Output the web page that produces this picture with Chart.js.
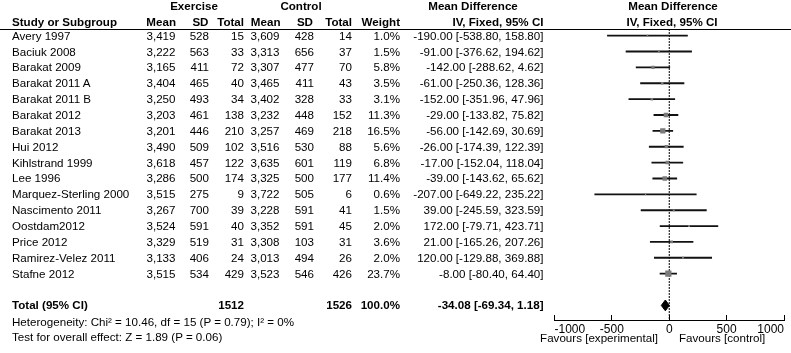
<!DOCTYPE html>
<html><head><meta charset="utf-8">
<script src="https://cdn.jsdelivr.net/npm/chart.js@4.4.1/dist/chart.umd.min.js"></script>
<style>
html,body{margin:0;padding:0;background:#fff;}
#wrap{position:relative;width:791px;height:353px;overflow:hidden;font-family:"Liberation Sans",Arial,sans-serif;font-size:11.6px;color:#000;}
canvas{position:absolute;left:0;top:0;}
.t{position:absolute;white-space:nowrap;line-height:14px;height:14px;}
.b{font-weight:bold;}
#hl{position:absolute;left:0;top:29px;width:791px;height:1px;background:#000;}
</style></head>
<body><div id="wrap"><canvas id="c" width="791" height="353"></canvas><div id="hl"></div></div>
<script>
// ---- data ----
const studies = ["Avery 1997","Baciuk 2008","Barakat 2009","Barakat 2011 A","Barakat 2011 B","Barakat 2012","Barakat 2013","Hui 2012","Kihlstrand 1999","Lee 1996","Marquez-Sterling 2000","Nascimento 2011","Oostdam2012","Price 2012","Ramirez-Velez 2011","Stafne 2012"];
const exMean = [3419,3222,3165,3404,3250,3203,3201,3490,3618,3286,3515,3267,3524,3329,3133,3515];
const exSD   = [528,563,411,465,493,461,446,509,457,500,275,700,591,519,406,534];
const exN    = [15,33,72,40,34,138,210,102,122,174,9,39,40,31,24,429];
const ctMean = [3609,3313,3307,3465,3402,3232,3257,3516,3635,3325,3722,3228,3352,3308,3013,3523];
const ctSD   = [428,656,477,411,328,448,469,530,601,500,505,591,591,103,494,546];
const ctN    = [14,37,70,43,33,152,218,88,119,177,6,41,45,31,26,426];
const weight = [1.0,1.5,5.8,3.5,3.1,11.3,16.5,5.6,6.8,11.4,0.6,1.5,2.0,3.6,2.0,23.7];
const md     = [-190,-91,-142,-61,-152,-29,-56,-26,-17,-39,-207,39,172,21,120,-8];
const ciLo   = [-538.80,-376.62,-288.62,-250.36,-351.96,-133.82,-142.69,-174.39,-152.04,-143.62,-649.22,-245.59,-79.71,-165.26,-129.88,-80.40];
const ciHi   = [158.80,194.62,4.62,128.36,47.96,75.82,30.69,122.39,118.04,65.62,235.22,323.59,423.71,207.26,369.88,64.40];
const totalLabel = "Total (95% CI)";
const totalExN = 1512, totalCtN = 1526, totalWeight = 100.0;
const totalMD = -34.08, totalLo = -69.34, totalHi = 1.18;
const xTicks = [-1000,-500,0,500,1000];
const heterogeneity = "Heterogeneity: Chi\u00b2 = 10.46, df = 15 (P = 0.79); I\u00b2 = 0%";
const overallTest = "Test for overall effect: Z = 1.89 (P = 0.06)";
const favLeft = "Favours [experimental]", favRight = "Favours [control]";

// ---- layout constants ----
const TOTAL_ROW = studies.length + 1;
const Y_MIN = -0.42, Y_MAX = 17.92;
const FONT = '"Liberation Sans", Arial, sans-serif';

const fmtN = v => v.toLocaleString('en-US');
const fmtCI = (m,l,h) => m.toFixed(2) + " [" + l.toFixed(2) + ", " + h.toFixed(2) + "]";

const chart = new Chart(document.getElementById('c'), {
  type: 'bar',
  data: {
    datasets: [
      { type:'bar', indexAxis:'y', order:2,
        data: studies.map((s,i)=>({x:[ciLo[i],ciHi[i]], y:i})),
        barThickness:1.2, backgroundColor:'#111', borderWidth:0 },
      { type:'scatter', order:1,
        data: studies.map((s,i)=>({x:md[i], y:i})),
        pointStyle:'rect', backgroundColor:'#7a7a7a', borderColor:'#7a7a7a', borderWidth:0,
        pointRadius: ctx => (0.4 + 1.2*Math.sqrt(weight[ctx.dataIndex]))/1.414 },
      { type:'line', indexAxis:'x', order:1,
        data: [{x:totalLo,y:TOTAL_ROW},{x:totalMD,y:TOTAL_ROW-0.34},{x:totalHi,y:TOTAL_ROW},{x:totalMD,y:TOTAL_ROW+0.34},{x:totalLo,y:TOTAL_ROW}],
        borderColor:'#000', backgroundColor:'#000', borderWidth:1, pointRadius:0, fill:'shape', tension:0 },
      { type:'line', indexAxis:'x', order:5, clip:false,
        data: [{x:0,y:Y_MIN},{x:0,y:Y_MAX}],
        borderColor:'#000', borderWidth:1, borderDash:[2,1], pointRadius:0, fill:false }
    ]
  },
  options: {
    responsive:false, animation:false, indexAxis:'y',
    layout:{ padding:{ left:554.5, right:0.5, top:29, bottom:0 } },
    plugins:{ legend:{display:false}, tooltip:{enabled:false} },
    scales:{
      y:{ type:'linear', reverse:true, min:Y_MIN, max:Y_MAX, display:false, offset:false, grace:0 },
      x:{ type:'linear', position:'bottom', min:-1000, max:1000, offset:false,
          afterBuildTicks: s => { s.ticks = xTicks.map(v=>({value:v})); },
          afterFit: s => { s.height = 33; },
          grid:{ drawOnChartArea:false, drawTicks:true, tickLength:-5, color:'#000', lineWidth:1 },
          border:{ display:true, color:'#000', width:1 },
          ticks:{ align:'inner', padding:7, color:'#000', autoSkip:false, maxRotation:0,
                  callback: v => String(v),
                  font:{ family:FONT, size:12 } } }
    }
  }
});

// ---- table text ----
const wrap = document.getElementById('wrap');
function txt(str, x, y, align, bold){
  const d = document.createElement('div');
  d.className = 't' + (bold ? ' b' : '');
  d.textContent = str;
  if (align === 'r'){ d.style.left = (x-400)+'px'; d.style.width='400px'; d.style.textAlign='right'; }
  else if (align === 'c'){ d.style.left = (x-200)+'px'; d.style.width='400px'; d.style.textAlign='center'; }
  else { d.style.left = x+'px'; }
  d.style.top = (y-7)+'px';
  wrap.appendChild(d);
}
const col = { name:12, exM:175.5, exS:209, exN:244, ctM:279.5, ctS:314, ctN:352, w:400, md:543.5 };
// headers
txt("Exercise", 194, 6, 'c', true);
txt("Control", 301, 6, 'c', true);
txt("Mean Difference", 473, 6, 'c', true);
txt("Mean Difference", 673, 6, 'c', true);
txt("Study or Subgroup", col.name, 22, 'l', true);
txt("Mean", col.exM+0.5, 22, 'r', true);
txt("SD", col.exS-0.5, 22, 'r', true);
txt("Total", col.exN, 22, 'r', true);
txt("Mean", col.ctM+1, 22, 'r', true);
txt("SD", col.ctS-1, 22, 'r', true);
txt("Total", col.ctN, 22, 'r', true);
txt("Weight", col.w, 22, 'r', true);
txt("IV, Fixed, 95% CI", col.md, 22, 'r', true);
txt("IV, Fixed, 95% CI", 672, 22, 'c', true);

const ys = chart.scales.y;
studies.forEach((s,i)=>{
  const y = ys.getPixelForValue(i);
  txt(s, col.name, y, 'l');
  txt(fmtN(exMean[i]), col.exM, y, 'r');
  txt(String(exSD[i]), col.exS, y, 'r');
  txt(String(exN[i]), col.exN, y, 'r');
  txt(fmtN(ctMean[i]), col.ctM, y, 'r');
  txt(String(ctSD[i]), col.ctS, y, 'r');
  txt(String(ctN[i]), col.ctN, y, 'r');
  txt(weight[i].toFixed(1)+'%', col.w, y, 'r');
  txt(fmtCI(md[i],ciLo[i],ciHi[i]), col.md, y, 'r');
});
const yt = ys.getPixelForValue(TOTAL_ROW);
txt(totalLabel, col.name, yt, 'l', true);
txt(String(totalExN), col.exN, yt, 'r', true);
txt(String(totalCtN), col.ctN, yt, 'r', true);
txt(totalWeight.toFixed(1)+'%', col.w, yt, 'r', true);
txt(fmtCI(totalMD,totalLo,totalHi), col.md, yt, 'r', true);
txt(heterogeneity, col.name, 322, 'l');
txt(overallTest, col.name, 337, 'l');
txt(favLeft, 658, 338, 'r');
txt(favRight, 679, 338, 'l');
</script>
</body></html>
